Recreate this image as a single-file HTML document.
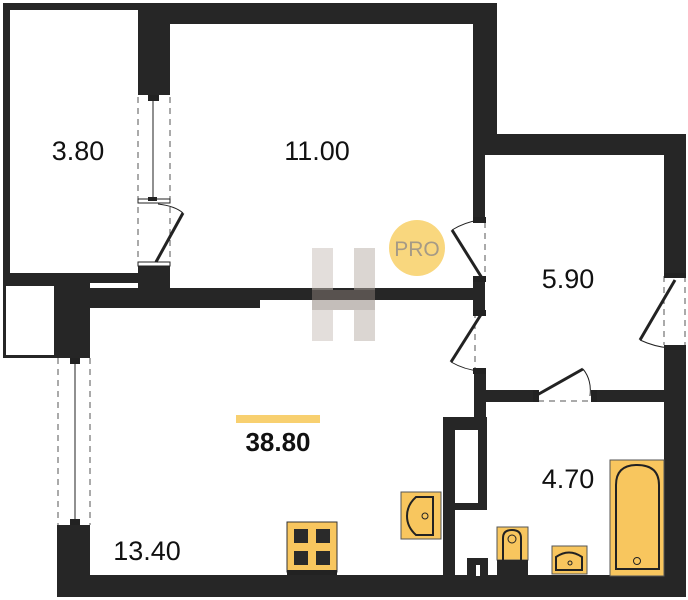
<!DOCTYPE html>
<html><head><meta charset="utf-8"><style>
html,body{margin:0;padding:0;background:#fff}
svg{display:block}
text{font-family:"Liberation Sans",sans-serif}
</style></head><body>
<svg width="688" height="600" viewBox="0 0 688 600" xmlns="http://www.w3.org/2000/svg">
<g fill="#262626">
<rect x="3" y="3" width="7" height="277"/>
<rect x="3" y="3" width="494" height="7"/>
<rect x="3" y="273" width="167" height="10"/>
<rect x="138" y="3" width="32" height="92"/>
<rect x="138" y="265" width="32" height="23"/>
<rect x="138" y="3" width="359" height="21"/>
<rect x="473" y="3" width="24" height="152"/>
<rect x="497" y="134" width="189" height="21"/>
<rect x="664" y="134" width="22" height="140"/>
<rect x="473" y="155" width="12" height="65"/>
<rect x="57" y="288" width="428" height="12"/>
<rect x="57" y="300" width="203" height="8"/>
<rect x="473" y="280" width="12" height="30"/>
<rect x="57" y="283" width="33" height="75"/>
<rect x="57" y="525" width="33" height="72"/>
<rect x="3" y="283" width="54" height="75"/>
<rect x="57" y="575" width="629" height="22"/>
<rect x="664" y="347" width="22" height="250"/>
<rect x="474" y="370" width="12" height="47"/>
<rect x="474" y="390" width="61" height="12"/>
<rect x="595" y="390" width="80" height="12"/>
<rect x="443" y="417" width="44" height="93"/>
<rect x="443" y="417" width="12" height="160"/>
</g>
<rect x="6" y="286" width="48" height="69" fill="#fff"/>
<rect x="455" y="430" width="23" height="73" fill="#fff"/>
<g stroke="#555" stroke-width="1" stroke-dasharray="6,5" fill="none">
<line x1="138" y1="97" x2="138" y2="265"/><line x1="170" y1="97" x2="170" y2="265"/>
<line x1="58" y1="358" x2="58" y2="525"/><line x1="90" y1="358" x2="90" y2="525"/>
<line x1="485" y1="222" x2="485" y2="278"/><line x1="475" y1="312" x2="475" y2="370"/>
<line x1="538" y1="401" x2="593" y2="401"/>
<line x1="664" y1="276" x2="664" y2="345"/><line x1="685" y1="276" x2="685" y2="345"/>
</g>
<g stroke="#222" fill="none">
<line x1="153" y1="100" x2="153" y2="198" stroke-width="1"/>
<line x1="75" y1="362" x2="75" y2="520" stroke-width="1"/>
<rect x="138" y="199" width="32" height="4" stroke-width="1" fill="#fff"/>
<rect x="138" y="262" width="32" height="4" stroke-width="1" fill="#fff"/>
<line x1="156" y1="262" x2="183" y2="213" stroke-width="3"/>
<path d="M158 204 Q175 206 183 213" stroke-width="1"/>
<line x1="482" y1="278" x2="452" y2="230" stroke-width="3"/>
<path d="M452 230 Q465 222 480 220" stroke-width="1"/>
<line x1="482" y1="313" x2="451" y2="362" stroke-width="3"/>
<path d="M451 362 Q465 370 480 371" stroke-width="1"/>
<line x1="537" y1="395" x2="583" y2="369" stroke-width="3"/>
<path d="M583 369 Q592 380 590 396" stroke-width="1"/>
<line x1="675" y1="280" x2="640" y2="340" stroke-width="3"/>
<path d="M640 340 Q655 347 670 348" stroke-width="1"/>
</g>
<g fill="#222">
<rect x="148" y="95" width="11" height="6"/><rect x="148" y="197" width="9" height="4"/>
<rect x="70" y="358" width="10" height="6"/><rect x="70" y="519" width="10" height="6"/>
<rect x="473" y="217" width="13" height="6"/><rect x="473" y="276" width="13" height="6"/>
<rect x="473" y="310" width="13" height="6"/><rect x="473" y="368" width="13" height="6"/>
<rect x="533" y="390" width="6" height="12"/><rect x="591" y="390" width="6" height="12"/>
<rect x="664" y="273" width="22" height="5"/><rect x="664" y="345" width="22" height="5"/>
</g>
<g opacity="0.5">
<polygon points="312,248 333,248 333,341 312,341" fill="#c9bfb8"/>
<polygon points="354,248 375,248 375,341 354,341" fill="#b8aea6"/>
<polygon points="312,290 375,290 375,310 312,310" fill="#8a7f78"/>
</g>
<circle cx="417" cy="248" r="28" fill="#f9d77e"/>
<text x="417" y="256" font-size="21" fill="#a59a86" text-anchor="middle">PRO</text>
<g font-size="27" fill="#111" text-anchor="middle">
<text x="78" y="160">3.80</text>
<text x="317" y="160">11.00</text>
<text x="568" y="288">5.90</text>
<text x="568" y="488">4.70</text>
<text x="147" y="560">13.40</text>
</g>
<rect x="236" y="415" width="84" height="8" fill="#f8d070"/>
<text x="278" y="451" font-size="26" font-weight="bold" fill="#111" text-anchor="middle">38.80</text>
<rect x="287" y="522" width="50" height="50" fill="#f8c65e" stroke="#333"/>
<rect x="287" y="570" width="50" height="5" fill="#222"/>
<g fill="#2a2a2a"><rect x="294" y="529" width="14" height="14"/><rect x="316" y="529" width="14" height="14"/><rect x="294" y="551" width="14" height="14"/><rect x="316" y="551" width="14" height="14"/></g>
<rect x="401" y="492" width="40" height="47" fill="#f8c65e" stroke="#555"/>
<path d="M433 497 L416 497 Q407 505 407 516 Q407 527 416 535 L433 535 Z" fill="none" stroke="#222" stroke-width="2"/>
<circle cx="425" cy="516" r="3" fill="none" stroke="#222"/>
<rect x="467" y="558" width="21" height="18" fill="#262626"/><rect x="476" y="565" width="4" height="11" fill="#fff"/>
<rect x="497" y="527" width="31" height="33" fill="#f8c65e" stroke="#555"/>
<rect x="497" y="560" width="31" height="16" fill="#262626"/>
<path d="M503 560 L503 538 Q503 530 512 530 Q521 530 521 538 L521 560" fill="none" stroke="#222" stroke-width="2"/>
<circle cx="512" cy="539" r="4" fill="none" stroke="#222"/>
<rect x="552" y="546" width="35" height="28" fill="#f8c65e" stroke="#555"/>
<path d="M556 570 L556 557 Q569 548 582 557 L582 570 Z" fill="none" stroke="#222" stroke-width="2"/>
<circle cx="570" cy="563" r="2" fill="none" stroke="#222"/>
<rect x="610" y="460" width="54" height="116" fill="#f8c65e" stroke="#555"/>
<path d="M616 569 L616 485 Q616 465 637 465 Q659 465 659 485 L659 569 Z" fill="none" stroke="#222" stroke-width="2"/>
<circle cx="637" cy="561" r="3.5" fill="none" stroke="#222"/>
</svg>
</body></html>
